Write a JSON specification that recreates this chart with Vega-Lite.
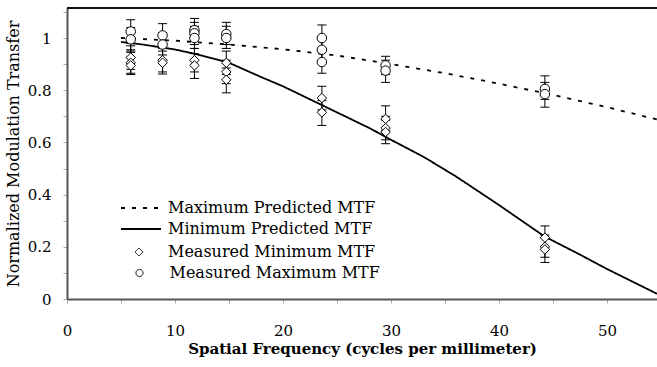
{
  "$schema": "https://vega.github.io/schema/vega-lite/v6.json",
  "width": 590,
  "height": 291,
  "autosize": {"type": "none"},
  "padding": {"left": 67, "top": 8, "right": 0, "bottom": 68},
  "background": "white",
  "datasets": {
    "curves": [
      {"series": "Maximum Predicted MTF", "f": 5, "mtf": 1.0},
      {"series": "Maximum Predicted MTF", "f": 10, "mtf": 0.99},
      {"series": "Maximum Predicted MTF", "f": 15, "mtf": 0.975},
      {"series": "Maximum Predicted MTF", "f": 20, "mtf": 0.957},
      {"series": "Maximum Predicted MTF", "f": 25, "mtf": 0.933},
      {"series": "Maximum Predicted MTF", "f": 30, "mtf": 0.9},
      {"series": "Maximum Predicted MTF", "f": 35, "mtf": 0.865},
      {"series": "Maximum Predicted MTF", "f": 40, "mtf": 0.825},
      {"series": "Maximum Predicted MTF", "f": 45, "mtf": 0.782},
      {"series": "Maximum Predicted MTF", "f": 50, "mtf": 0.735},
      {"series": "Maximum Predicted MTF", "f": 54.63, "mtf": 0.688},
      {"series": "Minimum Predicted MTF", "f": 5, "mtf": 0.985},
      {"series": "Minimum Predicted MTF", "f": 7, "mtf": 0.975},
      {"series": "Minimum Predicted MTF", "f": 10, "mtf": 0.956},
      {"series": "Minimum Predicted MTF", "f": 12, "mtf": 0.938},
      {"series": "Minimum Predicted MTF", "f": 15, "mtf": 0.905},
      {"series": "Minimum Predicted MTF", "f": 18, "mtf": 0.85},
      {"series": "Minimum Predicted MTF", "f": 20, "mtf": 0.815},
      {"series": "Minimum Predicted MTF", "f": 24, "mtf": 0.735},
      {"series": "Minimum Predicted MTF", "f": 28, "mtf": 0.655},
      {"series": "Minimum Predicted MTF", "f": 30, "mtf": 0.61},
      {"series": "Minimum Predicted MTF", "f": 33, "mtf": 0.545},
      {"series": "Minimum Predicted MTF", "f": 36, "mtf": 0.47},
      {"series": "Minimum Predicted MTF", "f": 40, "mtf": 0.36},
      {"series": "Minimum Predicted MTF", "f": 44.2, "mtf": 0.24},
      {"series": "Minimum Predicted MTF", "f": 47.5, "mtf": 0.17},
      {"series": "Minimum Predicted MTF", "f": 50, "mtf": 0.115},
      {"series": "Minimum Predicted MTF", "f": 54.63, "mtf": 0.02}
    ],
    "meas": [
      {"series": "Measured Maximum MTF", "f": 5.9, "mtf": 1.025, "lo": 0.98, "hi": 1.07},
      {"series": "Measured Maximum MTF", "f": 5.9, "mtf": 0.995, "lo": 0.95, "hi": 1.04},
      {"series": "Measured Minimum MTF", "f": 5.9, "mtf": 0.925, "lo": 0.88, "hi": 0.97},
      {"series": "Measured Minimum MTF", "f": 5.9, "mtf": 0.905, "lo": 0.865, "hi": 0.955},
      {"series": "Measured Minimum MTF", "f": 5.9, "mtf": 0.895, "lo": 0.86, "hi": 0.945},
      {"series": "Measured Maximum MTF", "f": 8.85, "mtf": 1.01, "lo": 0.97, "hi": 1.055},
      {"series": "Measured Maximum MTF", "f": 8.85, "mtf": 0.975, "lo": 0.935, "hi": 1.02},
      {"series": "Measured Minimum MTF", "f": 8.85, "mtf": 0.915, "lo": 0.87, "hi": 0.96},
      {"series": "Measured Minimum MTF", "f": 8.85, "mtf": 0.905, "lo": 0.862, "hi": 0.95},
      {"series": "Measured Maximum MTF", "f": 11.8, "mtf": 1.03, "lo": 0.99, "hi": 1.075},
      {"series": "Measured Maximum MTF", "f": 11.8, "mtf": 1.018, "lo": 0.975, "hi": 1.06},
      {"series": "Measured Maximum MTF", "f": 11.8, "mtf": 1.0, "lo": 0.96, "hi": 1.045},
      {"series": "Measured Minimum MTF", "f": 11.8, "mtf": 0.915, "lo": 0.87, "hi": 0.96},
      {"series": "Measured Minimum MTF", "f": 11.8, "mtf": 0.895, "lo": 0.845, "hi": 0.94},
      {"series": "Measured Maximum MTF", "f": 14.75, "mtf": 1.015, "lo": 0.975, "hi": 1.06},
      {"series": "Measured Maximum MTF", "f": 14.75, "mtf": 1.0, "lo": 0.96, "hi": 1.045},
      {"series": "Measured Minimum MTF", "f": 14.75, "mtf": 0.905, "lo": 0.86, "hi": 0.95},
      {"series": "Measured Minimum MTF", "f": 14.75, "mtf": 0.87, "lo": 0.825, "hi": 0.915},
      {"series": "Measured Minimum MTF", "f": 14.75, "mtf": 0.84, "lo": 0.79, "hi": 0.885},
      {"series": "Measured Maximum MTF", "f": 23.6, "mtf": 1.0, "lo": 0.955, "hi": 1.05},
      {"series": "Measured Maximum MTF", "f": 23.6, "mtf": 0.955, "lo": 0.91, "hi": 1.0},
      {"series": "Measured Maximum MTF", "f": 23.6, "mtf": 0.908, "lo": 0.865, "hi": 0.955},
      {"series": "Measured Minimum MTF", "f": 23.6, "mtf": 0.77, "lo": 0.725, "hi": 0.815},
      {"series": "Measured Minimum MTF", "f": 23.6, "mtf": 0.715, "lo": 0.665, "hi": 0.76},
      {"series": "Measured Maximum MTF", "f": 29.5, "mtf": 0.895, "lo": 0.86, "hi": 0.93},
      {"series": "Measured Maximum MTF", "f": 29.5, "mtf": 0.875, "lo": 0.83, "hi": 0.915},
      {"series": "Measured Minimum MTF", "f": 29.5, "mtf": 0.69, "lo": 0.645, "hi": 0.74},
      {"series": "Measured Minimum MTF", "f": 29.5, "mtf": 0.655, "lo": 0.61, "hi": 0.7},
      {"series": "Measured Minimum MTF", "f": 29.5, "mtf": 0.64, "lo": 0.595, "hi": 0.685},
      {"series": "Measured Maximum MTF", "f": 44.25, "mtf": 0.805, "lo": 0.765, "hi": 0.855},
      {"series": "Measured Maximum MTF", "f": 44.25, "mtf": 0.785, "lo": 0.735, "hi": 0.83},
      {"series": "Measured Minimum MTF", "f": 44.25, "mtf": 0.235, "lo": 0.19, "hi": 0.28},
      {"series": "Measured Minimum MTF", "f": 44.25, "mtf": 0.2, "lo": 0.16, "hi": 0.245},
      {"series": "Measured Minimum MTF", "f": 44.25, "mtf": 0.19, "lo": 0.14, "hi": 0.235}
    ]
  },
  "resolve": {"scale": {"strokeDash": "independent"}, "legend": {"strokeDash": "independent"}},
  "layer": [
    {
      "data": {"values": [{"edge": "top"}]},
      "mark": {"type": "rule", "color": "#111", "strokeWidth": 2},
      "encoding": {
        "y": {"datum": 1.115, "type": "quantitative"}
      }
    },
    {
      "data": {"name": "curves"},
      "mark": {"type": "line", "color": "black", "strokeWidth": 1.8},
      "encoding": {
        "x": {"field": "f", "type": "quantitative", "title": "Spatial Frequency (cycles per millimeter)",
          "scale": {"domain": [0, 54.63], "nice": false, "zero": false}},
        "y": {"field": "mtf", "type": "quantitative", "title": "Normalized Modulation Transfer",
          "scale": {"domain": [0, 1.115], "nice": false, "zero": false}},
        "strokeDash": {"field": "series", "type": "nominal",
          "scale": {"domain": ["Maximum Predicted MTF", "Minimum Predicted MTF"],
            "range": [[4, 7], [1, 0]]},
          "legend": {
            "title": null,
            "orient": "none",
            "legendX": 53,
            "legendY": 192,
            "symbolType": "stroke",
            "symbolSize": 1600,
            "clipHeight": 16,
            "symbolStrokeColor": "black",
            "symbolStrokeWidth": 1.8,
            "labelOffset": 6,
            "rowPadding": 5,
            "padding": 0
          }}
      }
    },
    {
      "data": {"name": "meas"},
      "transform": [{"filter": "datum.series === 'Measured Minimum MTF'"}],
      "mark": {"type": "line", "stroke": "transparent", "strokeWidth": 1},
      "encoding": {
        "x": {"field": "f", "type": "quantitative", "title": "Spatial Frequency (cycles per millimeter)"},
        "y": {"field": "mtf", "type": "quantitative", "title": "Normalized Modulation Transfer"},
        "strokeDash": {"field": "series", "type": "nominal",
          "scale": {"domain": ["Measured Minimum MTF"], "range": [[1, 0]]},
          "legend": {
            "title": null,
            "orient": "none",
            "legendX": 53,
            "legendY": 236,
            "symbolType": "diamond",
            "symbolSize": 64,
            "symbolStrokeColor": "black",
            "symbolFillColor": "white",
            "symbolStrokeWidth": 1,
            "symbolOffset": 11,
            "labelOffset": 21,
            "padding": 0
          }}
      }
    },
    {
      "data": {"name": "meas"},
      "transform": [{"filter": "datum.series === 'Measured Maximum MTF'"}],
      "mark": {"type": "line", "stroke": "transparent", "strokeWidth": 1},
      "encoding": {
        "x": {"field": "f", "type": "quantitative", "title": "Spatial Frequency (cycles per millimeter)"},
        "y": {"field": "mtf", "type": "quantitative", "title": "Normalized Modulation Transfer"},
        "strokeDash": {"field": "series", "type": "nominal",
          "scale": {"domain": ["Measured Maximum MTF"], "range": [[1, 0]]},
          "legend": {
            "title": null,
            "orient": "none",
            "legendX": 53,
            "legendY": 257,
            "symbolType": "circle",
            "symbolSize": 50,
            "symbolStrokeColor": "black",
            "symbolFillColor": "white",
            "symbolStrokeWidth": 1,
            "symbolOffset": 11.5,
            "labelOffset": 22,
            "padding": 0
          }}
      }
    },
    {
      "data": {"name": "meas"},
      "mark": {"type": "rule", "color": "black", "strokeWidth": 1},
      "encoding": {
        "x": {"field": "f", "type": "quantitative", "title": "Spatial Frequency (cycles per millimeter)"},
        "y": {"field": "lo", "type": "quantitative", "title": "Normalized Modulation Transfer"},
        "y2": {"field": "hi"}
      }
    },
    {
      "data": {"name": "meas"},
      "mark": {"type": "point", "shape": "stroke", "size": 81, "color": "black", "strokeWidth": 1, "opacity": 1},
      "encoding": {
        "x": {"field": "f", "type": "quantitative", "title": "Spatial Frequency (cycles per millimeter)"},
        "y": {"field": "lo", "type": "quantitative", "title": "Normalized Modulation Transfer"}
      }
    },
    {
      "data": {"name": "meas"},
      "mark": {"type": "point", "shape": "stroke", "size": 81, "color": "black", "strokeWidth": 1, "opacity": 1},
      "encoding": {
        "x": {"field": "f", "type": "quantitative", "title": "Spatial Frequency (cycles per millimeter)"},
        "y": {"field": "hi", "type": "quantitative", "title": "Normalized Modulation Transfer"}
      }
    },
    {
      "data": {"name": "meas"},
      "mark": {"type": "point", "filled": true, "fill": "white", "stroke": "black", "strokeWidth": 1, "opacity": 1, "size": 90},
      "encoding": {
        "x": {"field": "f", "type": "quantitative", "title": "Spatial Frequency (cycles per millimeter)"},
        "y": {"field": "mtf", "type": "quantitative", "title": "Normalized Modulation Transfer"},
        "shape": {"field": "series", "type": "nominal",
          "scale": {"domain": ["Measured Minimum MTF", "Measured Maximum MTF"],
            "range": ["diamond", "circle"]},
          "legend": null}
      }
    }
  ],
  "config": {
    "view": {"stroke": null},
    "axis": {
      "grid": false,
      "labelFont": "DejaVu Serif",
      "titleFont": "DejaVu Serif",
      "labelColor": "black",
      "titleColor": "black",
      "labelFontSize": 15,
      "titleFontSize": 16,
      "titleFontWeight": "normal",
      "domainColor": "#555",
      "domainWidth": 2,
      "tickColor": "#aaa",
      "tickSize": 4,
      "labelFlush": false,
      "labelOverlap": false
    },
    "axisX": {
      "values": [0, 2, 4, 6, 8, 10, 12, 14, 16, 18, 20, 22, 24, 26, 28, 30, 32, 34, 36, 38, 40, 42, 44, 46, 48, 50, 52, 54],
      "labelExpr": "datum.value % 10 === 0 ? datum.label : ''",
      "format": "d",
      "labelPadding": 20,
      "titlePadding": 3,
      "titleFontWeight": "bold",
      "titleFontSize": 15
    },
    "axisY": {
      "values": [0, 0.1, 0.2, 0.3, 0.4, 0.5, 0.6, 0.7, 0.8, 0.9, 1, 1.1],
      "labelExpr": "round(datum.value * 10) % 2 === 0 ? datum.label : ''",
      "format": "~g",
      "labelPadding": 12,
      "titlePadding": 6
    },
    "legend": {
      "labelFont": "DejaVu Serif",
      "labelFontSize": 16,
      "labelColor": "black",
      "labelLimit": 400
    }
  }
}
